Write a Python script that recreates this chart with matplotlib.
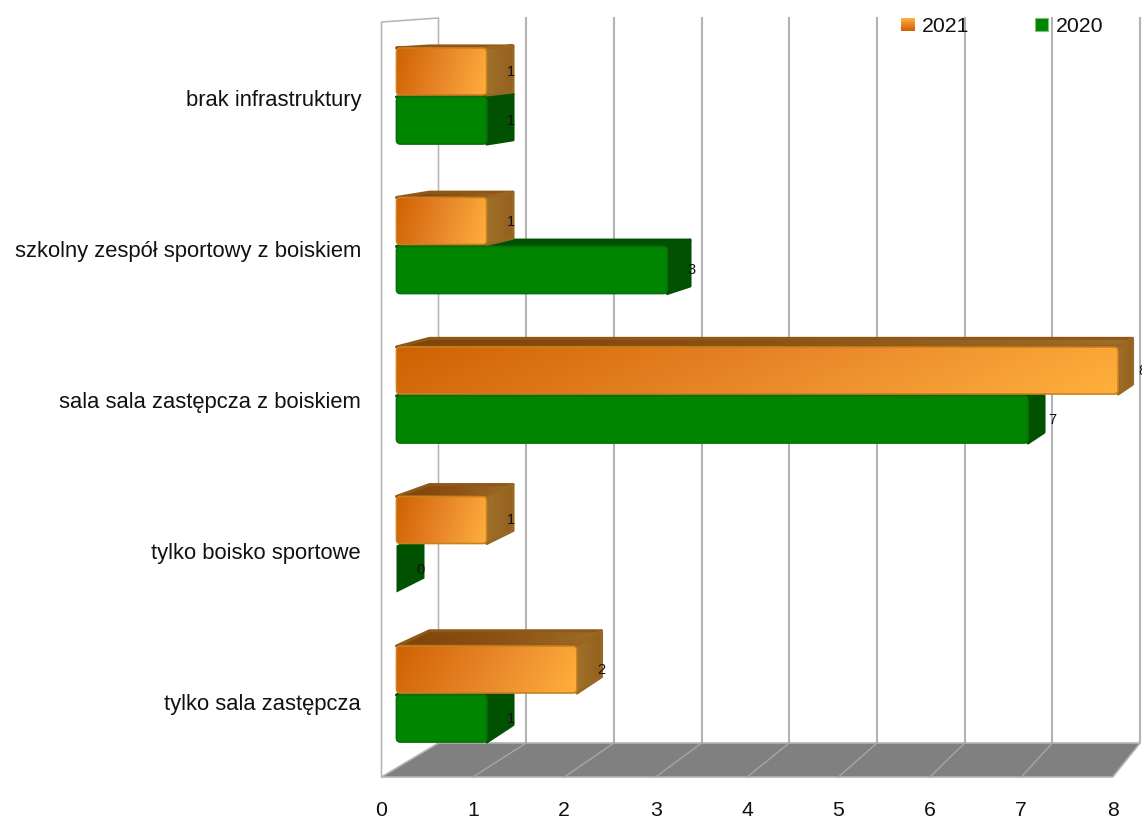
import numpy as np
import matplotlib
matplotlib.use("Agg")
import matplotlib.pyplot as plt
from matplotlib.colors import LinearSegmentedColormap
from matplotlib.patches import FancyBboxPatch, Polygon

plt.rcParams['font.family'] = ['Liberation Sans', 'DejaVu Sans']

categories = ['brak infrastruktury', 'szkolny zespół sportowy z boiskiem',
              'sala sala zastępcza z boiskiem', 'tylko boisko sportowe',
              'tylko sala zastępcza']
values_2021 = [1, 1, 8, 1, 2]
values_2020 = [1, 3, 7, 0, 1]
ticks = [0, 1, 2, 3, 4, 5, 6, 7, 8]

W, H = 1142, 818
fig = plt.figure(figsize=(W / 100, H / 100), dpi=100)
ax = fig.add_axes([0, 0, 1, 1])
ax.set_axis_off()

orange_front = LinearSegmentedColormap.from_list('of', ['#CF6203', '#E8862A', '#FFB03C'])
orange_top = LinearSegmentedColormap.from_list('ot', ['#7E4408', '#8C5214', '#9E6E28'])
orange_side = LinearSegmentedColormap.from_list('os', ['#A0722C', '#935F1C'])
GREEN = '#008500'
GREEN_DARK = '#005200'
TEXT = '#111111'


# the chart is a fake 3d box, so everything goes through these projections
def floor_front(v):
    return 381.5 + 91.4 * v


def floor_back(v):
    return 438.5 + 87.7 * v


def bar_front(v):
    return 396.5 + 90.2 * v


def bar_back(v):
    return 424.5 + 88.5 * v


def back_y(y):
    return 0.978 * y - 1


def shaded(poly, cmap):
    x0, x1 = min(p[0] for p in poly), max(p[0] for p in poly)
    y0, y1 = min(p[1] for p in poly), max(p[1] for p in poly)
    xx = np.meshgrid(np.linspace(0, 1, 200), np.linspace(0, 1, 40))[0]
    patch = Polygon(poly, closed=True, fc='none', ec='none', zorder=3)
    ax.add_patch(patch)
    im = ax.imshow(xx, cmap=cmap, extent=[x0, x1, y1, y0], aspect='auto', zorder=3,
                   vmin=0, vmax=1)
    im.set_clip_path(patch)
    # round the outer corners a bit
    ax.add_patch(Polygon(poly, closed=True, fc='none', ec=cmap(0.6), lw=2.2,
                         joinstyle='round', zorder=3))


def draw_bar(v, top, height, is_orange, order):
    xf, xb = bar_front(v), bar_back(v)
    xl = bar_back(0) + 5
    bottom = top + height
    top_face = [(bar_front(0), top), (xl, back_y(top)), (xb, back_y(top)), (xf, top)]
    side_face = [(xf, top), (xb, back_y(top)), (xb, back_y(bottom)), (xf, bottom)]
    if v == 0:
        # zero bar only shows its end face
        ax.add_patch(Polygon(side_face, closed=True, fc=GREEN_DARK, ec='none', zorder=order))
        return
    if is_orange:
        shaded(top_face, orange_top)
        shaded(side_face, orange_side)
        xx, yy = np.meshgrid(np.linspace(0, 1, 200), np.linspace(1, 0, 40))
        grad = 0.88 * xx + 0.12 * (1 - yy)
        box = FancyBboxPatch((bar_front(0), top), xf - bar_front(0), height,
                             boxstyle='round,pad=0,rounding_size=4', fc='none',
                             ec='#C9801F', lw=1.2, zorder=4)
        ax.add_patch(box)
        im = ax.imshow(grad, cmap=orange_front, extent=[bar_front(0), xf, bottom, top],
                       aspect='auto', zorder=3.5, vmin=0, vmax=1)
        im.set_clip_path(box)
    else:
        ax.add_patch(Polygon(top_face, closed=True, fc=GREEN_DARK, ec=GREEN_DARK, lw=2.2,
                             joinstyle='round', zorder=order))
        ax.add_patch(Polygon(side_face, closed=True, fc=GREEN_DARK, ec=GREEN_DARK, lw=2.2,
                             joinstyle='round', zorder=order))
        ax.add_patch(FancyBboxPatch((bar_front(0), top), xf - bar_front(0), height,
                                    boxstyle='round,pad=0,rounding_size=4', fc=GREEN,
                                    ec='#0B700B', lw=1.3, zorder=order + 0.1))


# back wall + floor
ax.plot([381.5, 381.5, 438.5, 438.5], [777, 22, 18, 743], color='#b3b3b3', lw=1.1, zorder=1)
for t in ticks[1:]:
    ax.plot([floor_back(t)] * 2, [18, 743], color='#b3b3b3', lw=1.5, zorder=1)
ax.add_patch(Polygon([(floor_front(0), 777), (floor_back(0), 743),
                      (floor_back(8), 743), (floor_front(8), 777)],
                     closed=True, fc='#808080', ec='#b3b3b3', lw=1.2, zorder=1))
for t in ticks[1:-1]:
    ax.plot([floor_front(t), floor_back(t)], [777, 743], color='#a6a6a6', lw=1, zorder=1.5)

for i, cat in enumerate(categories):
    top = 48 + 149.5 * i
    draw_bar(values_2020[i], top + 49, 47, False, 2)
    draw_bar(values_2021[i], top, 47, True, 3)
    ax.text(bar_front(values_2021[i]) + 20, top + 24, str(values_2021[i]), fontsize=10.5,
            va='center', ha='left', color=TEXT, zorder=6)
    ax.text(bar_front(values_2020[i]) + 20, top + 73, str(values_2020[i]), fontsize=10.5,
            va='center', ha='left', color=TEXT, zorder=6)
    ax.text(361, 100.5 + 151 * i, cat, fontsize=15.8, ha='right', va='center', color=TEXT)

for t in ticks:
    ax.text(floor_front(t), 810.5, str(t), fontsize=15.3, ha='center', va='center', color=TEXT)

# legend
leg_grad = np.linspace(1, 0, 40).reshape(-1, 1)
ax.imshow(leg_grad, cmap=orange_front, extent=[901, 915, 31, 18], aspect='auto', zorder=5,
          vmin=0, vmax=1)
ax.text(922, 26.5, '2021', fontsize=15.3, va='center', ha='left', color=TEXT, zorder=6)
ax.add_patch(FancyBboxPatch((1035, 18), 13, 13, boxstyle='square,pad=0', fc=GREEN,
                            ec='#7fbf7f', lw=0.8, zorder=5))
ax.text(1056, 26.5, '2020', fontsize=15.3, va='center', ha='left', color=TEXT, zorder=6)

ax.set_xlim(0, W)
ax.set_ylim(H, 0)
fig.savefig('out.png', dpi=100, facecolor='white')
